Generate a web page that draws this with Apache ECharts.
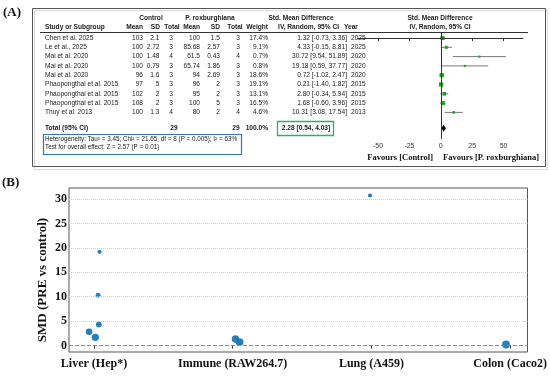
<!DOCTYPE html>
<html><head><meta charset="utf-8">
<script src="https://cdn.jsdelivr.net/npm/echarts@6/dist/echarts.min.js"></script>
<style>html,body{margin:0;padding:0;background:#fff}#c{width:550px;height:378px}</style>
</head><body><div id="c"></div>
<script>
// ---------- Panel A data (forest plot) ----------
const studies = ["Chen et al. 2025","Le et al., 2025","Mai et al. 2020","Mai et al. 2020","Mai et al. 2020","Phaopongthai et al. 2015","Phaopongthai et al. 2015","Phaopongthai et al. 2015","Thuy et al. 2013"];
const ctrlMean = [103,100,100,100,96,97,102,108,100];
const ctrlSD = [2.1,2.72,1.48,0.79,1.6,5,2,2,1.3];
const ctrlN = [3,3,4,3,3,3,3,3,4];
const roxMean = [100,85.68,61.5,65.74,94,96,95,100,80];
const roxSD = [1.5,2.57,0.43,1.86,2.69,2,2,5,2];
const roxN = [3,3,4,3,3,3,3,3,4];
const weight = [17.4,9.1,0.7,0.8,18.6,19.1,13.1,16.5,4.6];
const smd = [1.32,4.33,30.72,19.18,0.72,0.21,2.80,1.68,10.31];
const ciLo = [-0.73,-0.15,9.54,0.59,-1.02,-1.40,-0.34,-0.60,3.08];
const ciHi = [3.36,8.81,51.89,37.77,2.47,1.82,5.94,3.96,17.54];
const years = [2025,2025,2020,2020,2020,2015,2015,2015,2013];
const total = {smd:2.28, lo:0.54, hi:4.03, nCtrl:29, nRox:29, weight:100.0};
const forestTicks = [-50,-25,0,25,50];
const heteroText = "Heterogeneity: Tau\u00b2 = 3.45; Chi\u00b2 = 21.65, df = 8 (P = 0.005); I\u00b2 = 63%";
const overallText = "Test for overall effect: Z = 2.57 (P = 0.01)";

// ---------- Panel B data ----------
const bCategories = ["Liver (Hep*)","Immune (RAW264.7)","Lung (A459)","Colon (Caco2)"];
const studyCategory = [1,0,2,0,1,3,0,0,0];          // category index for each study
const studyJitter = [0.02,0.035,-0.01,0.04,0.05,-0.03,-0.035,0.01,0.03];
const bYTicks = [0,5,10,15,20,25,30];
const bYTitle = "SMD (PRE vs control)";

const fam = "'Liberation Sans',Arial,sans-serif";
const serif = "'Liberation Serif','Times New Roman',serif";
const TOTAL_ROW = 9.7;
const FS = 6.6;

const chart = echarts.init(document.getElementById('c'), null, {renderer:'canvas'});

const forestData = studies.map((s,i)=>[smd[i],ciLo[i],ciHi[i],i,weight[i],0]);
forestData.push([total.smd,total.lo,total.hi,TOTAL_ROW,total.weight,1]);

const scatterData = studies.map((s,i)=>[studyCategory[i]+studyJitter[i], smd[i], weight[i]]);

chart.setOption({
  animation:false,
  grid:[
    {left:358, top:32, width:165, height:107, containLabel:false},
    {left:69, top:188, right:5, bottom:26, show:true, borderColor:'#555', borderWidth:1, backgroundColor:'transparent'}
  ],
  xAxis:[
    {gridIndex:0, type:'value', min:-66, max:65.5,
     axisLine:{show:true, lineStyle:{color:'#333', width:1}},
     axisTick:{show:true, customValues:forestTicks, length:3, lineStyle:{color:'#333'}},
     axisLabel:{customValues:forestTicks, fontSize:7, fontFamily:fam, color:'#333', margin:4},
     splitLine:{show:false}, z:5},
    {gridIndex:1, type:'value', min:-0.18, max:3.125,
     axisLine:{show:false},
     axisTick:{show:true, customValues:[0,1,2,3], length:3, lineStyle:{color:'#333'}},
     axisLabel:{customValues:[0,1,2,3], formatter:v=>bCategories[Math.round(v)], fontSize:12, fontWeight:'bold', fontFamily:serif, color:'#111', margin:6},
     splitLine:{show:false}}
  ],
  yAxis:[
    {gridIndex:0, type:'value', inverse:true, min:-0.645, max:10.86, show:false},
    {gridIndex:1, type:'value', min:-1.32, max:32.25,
     axisLine:{show:false}, axisTick:{show:false, customValues:bYTicks},
     axisLabel:{customValues:bYTicks, fontSize:12, fontWeight:'bold', fontFamily:serif, color:'#111', margin:2},
     splitLine:{show:false}}
  ],
  series:[
    {type:'custom', xAxisIndex:0, yAxisIndex:0, data:forestData, encode:{x:[0,1,2], y:3},
     renderItem:(params, api)=>{
       const m=api.value(0), lo=api.value(1), hi=api.value(2), r=api.value(3), w=api.value(4), k=api.value(5);
       const pL=api.coord([lo,r]), pH=api.coord([hi,r]), pM=api.coord([m,r]);
       if(k===1){
         return {type:'polygon', shape:{points:[[pL[0],pM[1]],[pM[0],pM[1]-3.5],[pH[0],pM[1]],[pM[0],pM[1]+3.5]]}, style:{fill:'#000'}};
       }
       const s=2+w*0.12;
       return {type:'group', children:[
         {type:'line', shape:{x1:pL[0],y1:pL[1],x2:pH[0],y2:pH[1]}, style:{stroke:'#7a7a7a', lineWidth:1}},
         {type:'rect', shape:{x:pM[0]-s/2,y:pM[1]-s/2,width:s,height:s}, style:{fill:'#22a022'}}
       ]};
     },
     markLine:{silent:true, symbol:'none', label:{show:false}, lineStyle:{color:'#333', width:1, type:'solid'}, data:[{xAxis:0}]},
     z:3},
    {type:'line', xAxisIndex:1, yAxisIndex:1, data:[], z:1,
     markLine:{silent:true, symbol:'none', label:{show:false},
       data: bYTicks.filter(t=>t>0).map(t=>({yAxis:t, lineStyle:{color:'#cfcfcf', type:'dotted', width:1}}))
         .concat([{yAxis:0, lineStyle:{color:'#6d8fb3', type:'dashed', width:1}}])}},
    {type:'scatter', xAxisIndex:1, yAxisIndex:1, data:scatterData, z:3,
     symbolSize:v=>4+v[2]*0.2,
     itemStyle:{color:'#1f77b4', opacity:0.95}}
  ]
});

// ---------- table text via graphic, rows aligned to forest y-scale ----------
const rowY = r => chart.convertToPixel({gridIndex:0},[0,r])[1];
const g = [];
function txt(t,x,y,align,opts){
  opts=opts||{};
  const el={type:'text', silent:true, z:10, style:{text:String(t), x:x, y:y, textAlign:align, textVerticalAlign:'middle',
    font:(opts.bold?'bold ':'')+(opts.size||FS)+'px '+(opts.family||fam), fill:opts.color||'#222'}};
  if(opts.rotate){el.style.x=0;el.style.y=0;el.x=x;el.y=y;el.rotation=opts.rotate;}
  g.push(el);
}
// outer box + shadow
g.push({type:'rect', silent:true, z:0, shape:{x:34.5,y:10.5,width:513,height:159}, style:{fill:'none', stroke:'#dadada', lineWidth:1}});
g.push({type:'rect', silent:true, z:1, shape:{x:32.5,y:8.5,width:513,height:158}, style:{fill:'none', stroke:'#555', lineWidth:1}});
// header line
g.push({type:'line', silent:true, z:2, shape:{x1:40,y1:32.5,x2:528,y2:32.5}, style:{stroke:'#333', lineWidth:1}});
// panel labels
txt('(A)',3,13,'left',{bold:true,size:13,family:serif,color:'#111'});
txt('(B)',2,183,'left',{bold:true,size:13,family:serif,color:'#111'});
// headers
const h1=18, h2=27.5;
txt('Control',151,h1,'center',{bold:true});
txt('P. roxburghiana',210,h1,'center',{bold:true});
txt('Std. Mean Difference',301,h1,'center',{bold:true});
txt('Std. Mean Difference',440,h1,'center',{bold:true});
txt('Study or Subgroup',45,h2,'left',{bold:true});
txt('Mean',143,h2,'right',{bold:true});
txt('SD',160,h2,'right',{bold:true});
txt('Total',172,h2,'center',{bold:true});
txt('Mean',200,h2,'right',{bold:true});
txt('SD',220,h2,'right',{bold:true});
txt('Total',235,h2,'center',{bold:true});
txt('Weight',268,h2,'right',{bold:true});
txt('IV, Random, 95% CI',339,h2,'right',{bold:true});
txt('Year',344,h2,'left',{bold:true});
txt('IV, Random, 95% CI',440,h2,'center',{bold:true});
// study rows
studies.forEach((s,i)=>{
  const y=rowY(i);
  txt(s,45,y,'left');
  txt(ctrlMean[i],143,y,'right');
  txt(ctrlSD[i],159.5,y,'right');
  txt(ctrlN[i],171,y,'center');
  txt(roxMean[i],200,y,'right');
  txt(roxSD[i],220,y,'right');
  txt(roxN[i],238,y,'center');
  txt(weight[i].toFixed(1)+'%',268,y,'right');
  txt(smd[i].toFixed(2)+' ['+ciLo[i].toFixed(2)+', '+ciHi[i].toFixed(2)+']',347,y,'right');
  txt(years[i],351,y,'left');
});
// total row
const ty=rowY(TOTAL_ROW);
txt('Total (95% CI)',45,ty,'left',{bold:true});
txt(total.nCtrl,174,ty,'center',{bold:true});
txt(total.nRox,236,ty,'center',{bold:true});
txt(total.weight.toFixed(1)+'%',268,ty,'right',{bold:true});
txt(total.smd.toFixed(2)+' ['+total.lo.toFixed(2)+', '+total.hi.toFixed(2)+']',306,ty,'center',{bold:true});
g.push({type:'rect', silent:true, z:9, shape:{x:277.5,y:121.5,width:56,height:14}, style:{fill:'none', stroke:'#2fb060', lineWidth:1.3}});
// heterogeneity
txt(heteroText,45,139.5,'left',{size:6.3});
txt(overallText,45,147.5,'left',{size:6.3});
g.push({type:'rect', silent:true, z:9, shape:{x:43.5,y:134.5,width:198,height:20}, style:{fill:'none', stroke:'#2a7ab8', lineWidth:1.2}});
// favours
txt('Favours [Control]',433,158,'right',{bold:true,size:8.5,family:serif,color:'#111'});
txt('Favours [P. roxburghiana]',443,158,'left',{bold:true,size:8.5,family:serif,color:'#111'});
// Panel B y-axis title
txt(bYTitle,43,280,'center',{bold:true,size:13,family:serif,color:'#111',rotate:Math.PI/2});
chart.setOption({graphic:{elements:g}});
</script>
</body></html>
